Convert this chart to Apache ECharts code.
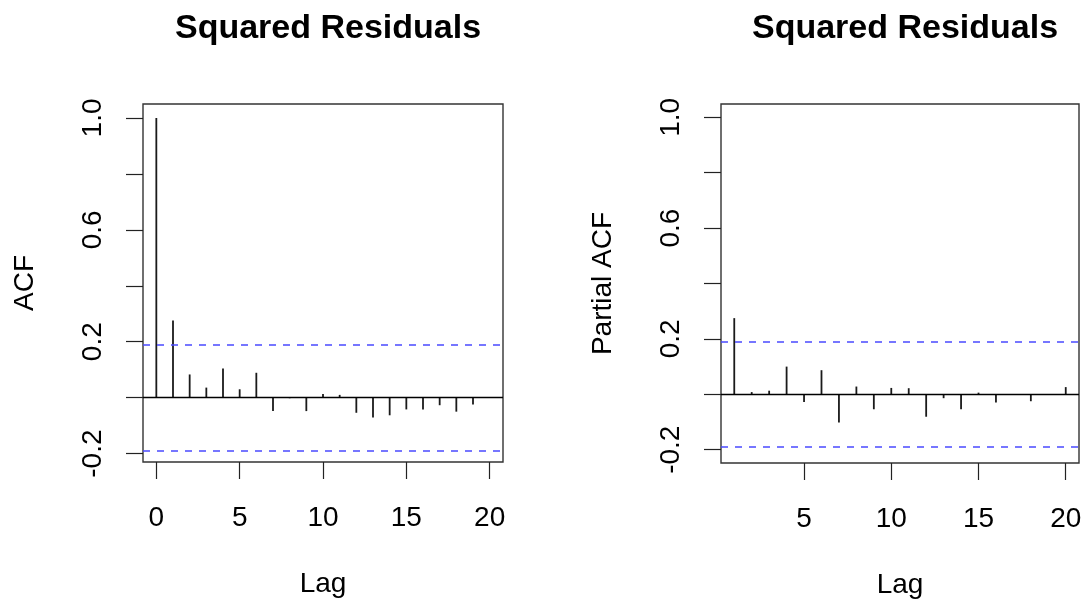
<!DOCTYPE html>
<html>
<head>
<meta charset="utf-8">
<script src="https://cdn.jsdelivr.net/npm/echarts@6/dist/echarts.min.js"></script>
<style>
html,body{margin:0;padding:0;background:#fff;}
#chart{width:1085px;height:604px;}
</style>
</head>
<body>
<div id="chart"></div>
<script>
// ---- data ----
var chartTitle = 'Squared Residuals';
var acfLags = [0,1,2,3,4,5,6,7,8,9,10,11,12,13,14,15,16,17,18,19,20];
var acfValues = [1.0,0.276,0.083,0.036,0.104,0.030,0.089,-0.048,-0.002,-0.048,0.013,0.010,-0.054,-0.071,-0.063,-0.042,-0.042,-0.027,-0.050,-0.024,-0.001];
var pacfLags = [1,2,3,4,5,6,7,8,9,10,11,12,13,14,15,16,17,18,19,20];
var pacfValues = [0.275,0.008,0.013,0.100,-0.028,0.087,-0.102,0.028,-0.054,0.023,0.022,-0.081,-0.014,-0.054,0.006,-0.030,-0.002,-0.025,-0.002,0.026];
var confBound = 0.187;
var yTickValues = [-0.2,0,0.2,0.4,0.6,0.8,1.0];
var yLabelValues = [-0.2,0.2,0.6,1.0];
var acfXTicks = [0,5,10,15,20];
var pacfXTicks = [5,10,15,20];

var FONT = 'Liberation Sans, Arial, Helvetica, sans-serif';
var chart = echarts.init(document.getElementById('chart'), null, {renderer:'canvas'});

function zip(a,b){return a.map(function(v,i){return [v,b[i]];});}

function xAxis(gi, min, max, ticks){
  return {
    type:'value', gridIndex:gi, min:min, max:max, position:'bottom',
    name:'Lag', nameLocation:'middle', nameGap:108,
    nameTextStyle:{fontFamily:FONT,fontSize:28,color:'#000'},
    axisLine:{show:false,onZero:false},
    axisTick:{show:true,length:17,inside:false,customValues:ticks,lineStyle:{color:'#222',width:1.2}},
    axisLabel:{show:true,margin:42,customValues:ticks,fontFamily:FONT,fontSize:28,color:'#000',
      formatter:function(v){return String(v);}},
    splitLine:{show:false}
  };
}
function yAxis(gi, min, max, name){
  return {
    type:'value', gridIndex:gi, min:min, max:max, position:'left',
    name:name, nameLocation:'middle', nameRotate:90, nameGap:104,
    nameTextStyle:{fontFamily:FONT,fontSize:28,color:'#000'},
    axisLine:{show:false,onZero:false},
    axisTick:{show:true,length:17,customValues:yTickValues,lineStyle:{color:'#222',width:1.2}},
    axisLabel:{show:true,rotate:90,margin:36,customValues:yLabelValues,fontFamily:FONT,fontSize:28,color:'#000',
      formatter:function(v){return v.toFixed(1);}},
    splitLine:{show:false}
  };
}
function series(gi, data){
  return {
    type:'bar', xAxisIndex:gi, yAxisIndex:gi, data:data,
    barWidth:1.8, itemStyle:{color:'#1a1a1a'}, silent:true, animation:false,
    markLine:{
      silent:true, symbol:'none', animation:false, label:{show:false},
      data:[
        {yAxis:0, lineStyle:{color:'#000',type:'solid',width:1.3}},
        {yAxis:confBound, lineStyle:{color:'#4a4aff',type:[7,7],width:1.5}},
        {yAxis:-confBound, lineStyle:{color:'#4a4aff',type:[7,7],width:1.5}}
      ]
    }
  };
}

chart.setOption({
  backgroundColor:'#fff',
  animation:false,
  title:[
    {text:chartTitle,left:323,top:7,textAlign:'center',textStyle:{fontFamily:FONT,fontSize:34,fontWeight:'bold',color:'#000'}},
    {text:chartTitle,left:900,top:7,textAlign:'center',textStyle:{fontFamily:FONT,fontSize:34,fontWeight:'bold',color:'#000'}}
  ],
  grid:[
    {left:143,top:104,width:360,height:358,show:true,borderColor:'#333',borderWidth:1.4,backgroundColor:'transparent'},
    {left:721,top:104,width:358,height:359,show:true,borderColor:'#333',borderWidth:1.4,backgroundColor:'transparent'}
  ],
  xAxis:[xAxis(0,-0.8,20.8,acfXTicks), xAxis(1,0.24,20.76,pacfXTicks)],
  yAxis:[yAxis(0,-0.23,1.05,'ACF'), yAxis(1,-0.248,1.048,'Partial ACF')],
  series:[series(0, zip(acfLags,acfValues)), series(1, zip(pacfLags,pacfValues))]
});
</script>
</body>
</html>
